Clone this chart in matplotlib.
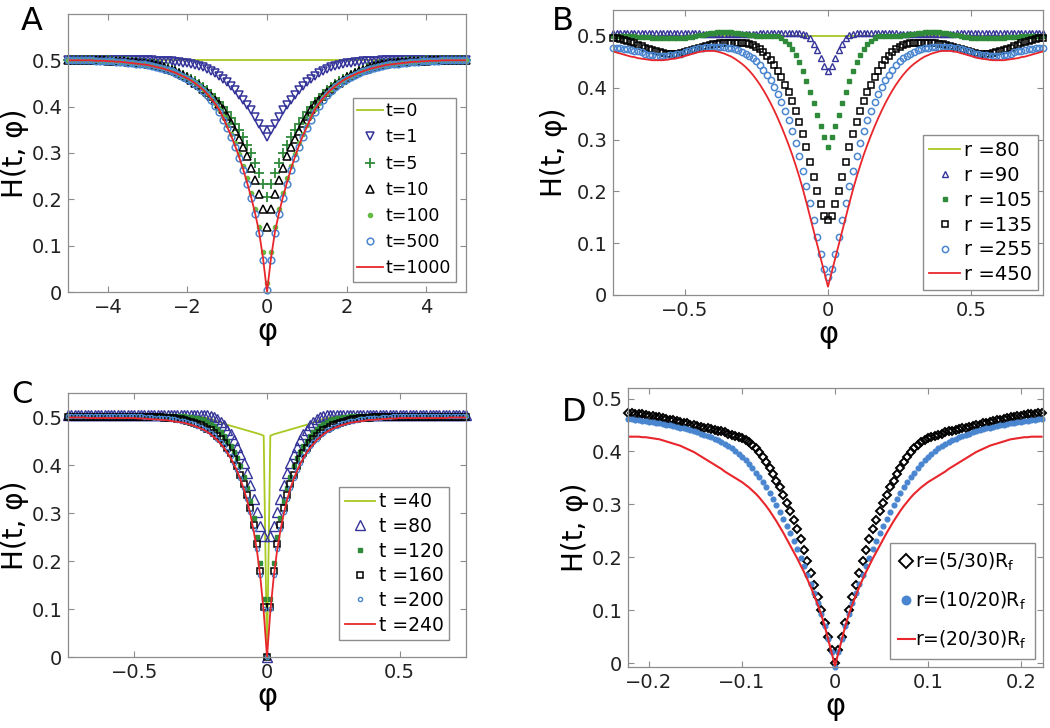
import numpy as np
import matplotlib
matplotlib.use("Agg")
import matplotlib.pyplot as plt

# ---- panel A : values on phi = 0, 0.1, ... 5 (curves are symmetric in phi)
a_phi = np.linspace(0, 5, 51)
a_t0 = [0.5, 0.5, 0.5, 0.5, 0.5, 0.5, 0.5, 0.5, 0.5, 0.5,
        0.5, 0.5, 0.5, 0.5, 0.5, 0.5, 0.5, 0.5, 0.5, 0.5,
        0.5, 0.5, 0.5, 0.5, 0.5, 0.5, 0.5, 0.5, 0.5, 0.5,
        0.5, 0.5, 0.5, 0.5, 0.5, 0.5, 0.5, 0.5, 0.5, 0.5,
        0.5, 0.5, 0.5, 0.5, 0.5, 0.5, 0.5, 0.5, 0.5, 0.5,
        0.5]
a_t1 = [0.335, 0.35, 0.363, 0.377, 0.392, 0.404, 0.415, 0.425, 0.435, 0.445,
        0.453, 0.46, 0.467, 0.472, 0.477, 0.481, 0.485, 0.488, 0.49, 0.492,
        0.494, 0.495, 0.496, 0.497, 0.498, 0.498, 0.499, 0.499, 0.499, 0.5,
        0.5, 0.5, 0.5, 0.5, 0.5, 0.5, 0.5, 0.5, 0.5, 0.5,
        0.5, 0.5, 0.5, 0.5, 0.5, 0.5, 0.5, 0.5, 0.5, 0.5,
        0.5]
a_t5 = [0.206, 0.233, 0.257, 0.279, 0.3, 0.318, 0.334, 0.349, 0.363, 0.376,
        0.388, 0.399, 0.409, 0.418, 0.427, 0.435, 0.442, 0.449, 0.455, 0.46,
        0.465, 0.469, 0.473, 0.477, 0.48, 0.483, 0.486, 0.488, 0.49, 0.492,
        0.493, 0.494, 0.495, 0.496, 0.497, 0.498, 0.498, 0.499, 0.499, 0.499,
        0.5, 0.5, 0.5, 0.5, 0.5, 0.5, 0.5, 0.5, 0.5, 0.5,
        0.5]
a_t10 = [0.141, 0.18, 0.212, 0.242, 0.268, 0.293, 0.312, 0.33, 0.348, 0.365,
         0.38, 0.394, 0.405, 0.414, 0.423, 0.431, 0.439, 0.446, 0.452, 0.458,
         0.463, 0.468, 0.472, 0.476, 0.479, 0.482, 0.485, 0.487, 0.489, 0.491,
         0.492, 0.494, 0.495, 0.496, 0.497, 0.497, 0.498, 0.498, 0.499, 0.499,
         0.499, 0.5, 0.5, 0.5, 0.5, 0.5, 0.5, 0.5, 0.5, 0.5,
         0.5]
a_t100 = [0.02, 0.087, 0.14, 0.18, 0.214, 0.245, 0.273, 0.298, 0.321, 0.342,
          0.361, 0.379, 0.395, 0.408, 0.42, 0.43, 0.439, 0.446, 0.453, 0.458,
          0.463, 0.467, 0.471, 0.475, 0.478, 0.481, 0.483, 0.485, 0.487, 0.489,
          0.49, 0.492, 0.493, 0.494, 0.495, 0.496, 0.497, 0.497, 0.498, 0.498,
          0.499, 0.499, 0.499, 0.5, 0.5, 0.5, 0.5, 0.5, 0.5, 0.5,
          0.5]
a_t500 = [0.005, 0.07, 0.128, 0.168, 0.203, 0.234, 0.263, 0.289, 0.313, 0.335,
          0.354, 0.372, 0.389, 0.402, 0.414, 0.425, 0.434, 0.442, 0.449, 0.455,
          0.46, 0.465, 0.469, 0.473, 0.476, 0.479, 0.482, 0.484, 0.486, 0.488,
          0.49, 0.491, 0.492, 0.493, 0.494, 0.495, 0.496, 0.497, 0.497, 0.498,
          0.498, 0.499, 0.499, 0.499, 0.5, 0.5, 0.5, 0.5, 0.5, 0.5,
          0.5]
a_t1000 = [0.0, 0.073, 0.13, 0.17, 0.205, 0.236, 0.265, 0.291, 0.315, 0.337,
           0.356, 0.376, 0.393, 0.406, 0.417, 0.427, 0.436, 0.443, 0.45, 0.456,
           0.461, 0.465, 0.469, 0.473, 0.476, 0.479, 0.482, 0.484, 0.486, 0.488,
           0.49, 0.491, 0.492, 0.493, 0.494, 0.495, 0.496, 0.497, 0.497, 0.498,
           0.498, 0.499, 0.499, 0.499, 0.5, 0.5, 0.5, 0.5, 0.5, 0.5,
           0.5]

# ---- panel B : values on phi = 0, 0.0125, ... 0.75
b_phi = np.linspace(0, 0.75, 61)
b_r80 = [0.5, 0.5, 0.5, 0.5, 0.5, 0.5, 0.5, 0.5, 0.5, 0.5,
         0.5, 0.5, 0.5, 0.5, 0.5, 0.5, 0.5, 0.5, 0.5, 0.5,
         0.5, 0.5, 0.5, 0.5, 0.5, 0.5, 0.5, 0.5, 0.5, 0.5,
         0.5, 0.5, 0.5, 0.5, 0.5, 0.5, 0.5, 0.5, 0.5, 0.5,
         0.5, 0.5, 0.5, 0.5, 0.5, 0.5, 0.5, 0.5, 0.5, 0.5,
         0.5, 0.5, 0.5, 0.5, 0.5, 0.5, 0.5, 0.5, 0.5, 0.5,
         0.5]
b_r90 = [0.432, 0.441, 0.457, 0.472, 0.485, 0.495, 0.501, 0.504, 0.505, 0.505,
         0.505, 0.505, 0.505, 0.505, 0.505, 0.505, 0.505, 0.505, 0.505, 0.505,
         0.504, 0.504, 0.504, 0.504, 0.504, 0.504, 0.504, 0.504, 0.504, 0.504,
         0.504, 0.504, 0.504, 0.504, 0.504, 0.504, 0.505, 0.505, 0.505, 0.505,
         0.505, 0.505, 0.505, 0.505, 0.505, 0.505, 0.505, 0.505, 0.505, 0.505,
         0.505, 0.505, 0.505, 0.505, 0.505, 0.505, 0.505, 0.505, 0.505, 0.505,
         0.505]
b_r105 = [0.285, 0.305, 0.326, 0.348, 0.37, 0.392, 0.413, 0.432, 0.449, 0.463,
          0.475, 0.484, 0.491, 0.496, 0.499, 0.5, 0.5, 0.5, 0.5, 0.5,
          0.5, 0.501, 0.502, 0.503, 0.504, 0.505, 0.506, 0.507, 0.508, 0.508,
          0.508, 0.507, 0.506, 0.505, 0.504, 0.502, 0.501, 0.499, 0.498, 0.497,
          0.496, 0.495, 0.495, 0.495, 0.495, 0.495, 0.495, 0.495, 0.496, 0.496,
          0.497, 0.497, 0.498, 0.498, 0.499, 0.499, 0.5, 0.5, 0.5, 0.5,
          0.5]
b_r135 = [0.145, 0.152, 0.175, 0.2, 0.228, 0.257, 0.285, 0.31, 0.334, 0.355,
          0.374, 0.391, 0.406, 0.42, 0.432, 0.443, 0.453, 0.461, 0.468, 0.474,
          0.478, 0.482, 0.484, 0.486, 0.487, 0.487, 0.487, 0.487, 0.487, 0.486,
          0.486, 0.485, 0.484, 0.483, 0.481, 0.479, 0.477, 0.475, 0.473, 0.471,
          0.469, 0.467, 0.466, 0.465, 0.465, 0.466, 0.467, 0.468, 0.47, 0.472,
          0.474, 0.477, 0.48, 0.483, 0.486, 0.488, 0.49, 0.492, 0.494, 0.495,
          0.496]
b_r255 = [0.035, 0.05, 0.08, 0.112, 0.145, 0.178, 0.21, 0.24, 0.268, 0.293,
          0.316, 0.337, 0.356, 0.373, 0.388, 0.402, 0.414, 0.425, 0.435, 0.444,
          0.451, 0.457, 0.462, 0.466, 0.469, 0.472, 0.474, 0.476, 0.477, 0.478,
          0.479, 0.479, 0.479, 0.479, 0.478, 0.477, 0.476, 0.474, 0.472, 0.47,
          0.468, 0.466, 0.465, 0.464, 0.463, 0.462, 0.462, 0.462, 0.462, 0.463,
          0.464, 0.466, 0.468, 0.47, 0.471, 0.473, 0.474, 0.475, 0.476, 0.476,
          0.477]
b_r450 = [0.016, 0.043, 0.07, 0.097, 0.124, 0.151, 0.178, 0.204, 0.228, 0.25,
          0.271, 0.29, 0.308, 0.325, 0.341, 0.356, 0.37, 0.383, 0.395, 0.406,
          0.416, 0.425, 0.433, 0.44, 0.446, 0.451, 0.456, 0.46, 0.463, 0.466,
          0.468, 0.47, 0.471, 0.471, 0.471, 0.47, 0.469, 0.467, 0.465, 0.463,
          0.461, 0.459, 0.457, 0.456, 0.455, 0.454, 0.453, 0.453, 0.453, 0.453,
          0.454, 0.455, 0.456, 0.457, 0.459, 0.46, 0.462, 0.464, 0.466, 0.468,
          0.47]

# ---- panel C : values on phi = 0, 0.0125, ... 0.75
c_phi = np.linspace(0, 0.75, 61)
c_t40 = [0.0, 0.461, 0.464, 0.466, 0.468, 0.47, 0.472, 0.474, 0.476, 0.478,
         0.48, 0.482, 0.484, 0.487, 0.489, 0.491, 0.494, 0.496, 0.498, 0.499,
         0.5, 0.5, 0.5, 0.5, 0.5, 0.5, 0.5, 0.5, 0.5, 0.5,
         0.5, 0.5, 0.5, 0.5, 0.5, 0.5, 0.5, 0.5, 0.5, 0.5,
         0.5, 0.5, 0.5, 0.5, 0.5, 0.5, 0.5, 0.5, 0.5, 0.5,
         0.5, 0.5, 0.5, 0.5, 0.5, 0.5, 0.5, 0.5, 0.5, 0.5,
         0.5]
c_t80 = [0.0, 0.252, 0.273, 0.302, 0.33, 0.358, 0.383, 0.404, 0.422, 0.438,
         0.452, 0.464, 0.474, 0.483, 0.49, 0.496, 0.5, 0.503, 0.504, 0.505,
         0.505, 0.505, 0.505, 0.505, 0.505, 0.505, 0.505, 0.505, 0.505, 0.505,
         0.505, 0.505, 0.505, 0.505, 0.505, 0.505, 0.505, 0.505, 0.505, 0.505,
         0.505, 0.505, 0.505, 0.505, 0.505, 0.505, 0.505, 0.505, 0.505, 0.505,
         0.505, 0.505, 0.505, 0.505, 0.505, 0.505, 0.505, 0.505, 0.505, 0.505,
         0.505]
c_t120 = [0.0, 0.12, 0.195, 0.25, 0.29, 0.325, 0.352, 0.375, 0.397, 0.414,
          0.428, 0.44, 0.451, 0.46, 0.468, 0.475, 0.481, 0.486, 0.49, 0.493,
          0.495, 0.497, 0.499, 0.5, 0.501, 0.502, 0.503, 0.503, 0.503, 0.503,
          0.503, 0.503, 0.503, 0.503, 0.503, 0.503, 0.503, 0.503, 0.503, 0.503,
          0.503, 0.503, 0.503, 0.503, 0.503, 0.503, 0.503, 0.503, 0.503, 0.503,
          0.503, 0.503, 0.503, 0.503, 0.503, 0.503, 0.503, 0.503, 0.503, 0.503,
          0.503]
c_t160 = [0.0, 0.105, 0.18, 0.235, 0.275, 0.31, 0.337, 0.36, 0.38, 0.397,
          0.412, 0.425, 0.436, 0.446, 0.454, 0.461, 0.467, 0.472, 0.476, 0.48,
          0.483, 0.486, 0.488, 0.49, 0.492, 0.494, 0.495, 0.496, 0.497, 0.498,
          0.499, 0.499, 0.5, 0.5, 0.5, 0.5, 0.5, 0.5, 0.5, 0.5,
          0.5, 0.5, 0.5, 0.5, 0.5, 0.5, 0.5, 0.5, 0.5, 0.5,
          0.5, 0.5, 0.5, 0.5, 0.5, 0.5, 0.5, 0.5, 0.5, 0.5,
          0.5]
c_t200 = [0.0, 0.1, 0.17, 0.225, 0.267, 0.302, 0.33, 0.353, 0.373, 0.39,
          0.405, 0.418, 0.429, 0.439, 0.448, 0.455, 0.462, 0.467, 0.472, 0.476,
          0.479, 0.482, 0.485, 0.487, 0.489, 0.491, 0.492, 0.494, 0.495, 0.496,
          0.497, 0.498, 0.498, 0.499, 0.499, 0.5, 0.501, 0.501, 0.502, 0.502,
          0.502, 0.502, 0.502, 0.502, 0.502, 0.502, 0.502, 0.502, 0.502, 0.502,
          0.502, 0.502, 0.502, 0.502, 0.502, 0.502, 0.502, 0.502, 0.502, 0.502,
          0.502]
c_t240 = [0.0, 0.095, 0.165, 0.22, 0.262, 0.297, 0.326, 0.35, 0.37, 0.387,
          0.402, 0.415, 0.426, 0.436, 0.444, 0.452, 0.458, 0.464, 0.469, 0.473,
          0.476, 0.479, 0.482, 0.484, 0.486, 0.488, 0.489, 0.49, 0.491, 0.492,
          0.493, 0.494, 0.494, 0.495, 0.495, 0.496, 0.496, 0.497, 0.497, 0.497,
          0.498, 0.498, 0.498, 0.498, 0.498, 0.498, 0.498, 0.498, 0.498, 0.498,
          0.498, 0.498, 0.498, 0.498, 0.498, 0.499, 0.499, 0.499, 0.499, 0.499,
          0.499]

# ---- panel D : values on phi = 0 ... 0.222
d_phi = np.linspace(0, 0.222, 61)
d_r5 = [0.0, 0.025, 0.05, 0.075, 0.1, 0.125, 0.148, 0.17, 0.193, 0.214,
        0.234, 0.253, 0.27, 0.287, 0.303, 0.318, 0.332, 0.345, 0.357, 0.369,
        0.38, 0.39, 0.399, 0.407, 0.413, 0.418, 0.422, 0.425, 0.428, 0.43,
        0.432, 0.434, 0.436, 0.438, 0.439, 0.441, 0.442, 0.444, 0.445, 0.447,
        0.448, 0.45, 0.451, 0.453, 0.454, 0.456, 0.457, 0.459, 0.46, 0.462,
        0.463, 0.465, 0.466, 0.467, 0.468, 0.469, 0.47, 0.471, 0.471, 0.472,
        0.472]
d_r10 = [-0.008, 0.02, 0.045, 0.07, 0.093, 0.113, 0.132, 0.15, 0.167, 0.183,
         0.199, 0.215, 0.23, 0.245, 0.259, 0.273, 0.286, 0.298, 0.31, 0.321,
         0.332, 0.342, 0.351, 0.36, 0.368, 0.376, 0.383, 0.39, 0.396, 0.401,
         0.406, 0.41, 0.414, 0.418, 0.421, 0.424, 0.427, 0.43, 0.432, 0.434,
         0.436, 0.438, 0.44, 0.442, 0.444, 0.445, 0.447, 0.448, 0.45, 0.451,
         0.452, 0.453, 0.454, 0.455, 0.456, 0.457, 0.458, 0.459, 0.46, 0.461,
         0.461]
d_r20 = [-0.005, 0.02, 0.045, 0.07, 0.092, 0.11, 0.127, 0.143, 0.158, 0.172,
         0.185, 0.198, 0.21, 0.222, 0.234, 0.246, 0.257, 0.268, 0.278, 0.288,
         0.297, 0.305, 0.313, 0.32, 0.326, 0.332, 0.337, 0.342, 0.346, 0.35,
         0.354, 0.358, 0.362, 0.367, 0.371, 0.375, 0.379, 0.383, 0.387, 0.391,
         0.395, 0.399, 0.402, 0.405, 0.408, 0.411, 0.413, 0.415, 0.417, 0.419,
         0.421, 0.423, 0.424, 0.425, 0.426, 0.427, 0.427, 0.428, 0.428, 0.428,
         0.428]

y_ticks = [0, 0.1, 0.2, 0.3, 0.4, 0.5]
y_ticklabels = ["0", "0.1", "0.2", "0.3", "0.4", "0.5"]
a_xticks = [-4, -2, 0, 2, 4]
a_xticklabels = ["\u22124", "\u22122", "0", "2", "4"]
bc_xticks = [-0.5, 0, 0.5]
bc_xticklabels = ["\u22120.5", "0", "0.5"]
d_xticks = [-0.2, -0.1, 0, 0.1, 0.2]
d_xticklabels = ["\u22120.2", "\u22120.1", "0", "0.1", "0.2"]

NAVY = "#34349a"
DGREEN = "#2f8a3a"
LGREEN = "#66bb44"
LBLUE = "#4a86d0"
RED = "#e8262b"
YGREEN = "#a8c822"


def full(phi, vals):
    # the curves are symmetric: show the stored half at -phi and +phi
    phi = np.asarray(phi)
    vals = np.asarray(vals)
    return (np.concatenate([-phi[:0:-1], phi]),
            np.concatenate([vals[:0:-1], vals]))


def style(ax, xlim, ylim, xt, xtl, ypad=2):
    ax.set_xlim(*xlim)
    ax.set_ylim(*ylim)
    ax.set_xticks(xt)
    ax.set_xticklabels(xtl)
    ax.set_yticks(y_ticks)
    ax.set_yticklabels(y_ticklabels)
    for s in ax.spines.values():
        s.set_color("#8c8c8c")
        s.set_linewidth(0.9)
    ax.tick_params(direction="in", length=4, width=0.8, color="#8c8c8c",
                   labelsize=14, labelcolor="#222222", top=True, right=True,
                   pad=4)
    ax.set_xlabel("\u03c6", fontsize=22, labelpad=0)
    ax.set_ylabel("H(t, \u03c6)", fontsize=20, labelpad=ypad)


def legend(ax, size, **kw):
    return ax.legend(loc="lower right", fontsize=size, frameon=True,
                     fancybox=False, edgecolor="#8c8c8c", framealpha=1,
                     **kw)


fig = plt.figure(figsize=(10.5, 7.28), dpi=100)
axA = fig.add_axes([0.0648, 0.5989, 0.3790, 0.3819])
axB = fig.add_axes([0.5838, 0.5948, 0.4095, 0.3915])
axC = fig.add_axes([0.0648, 0.0975, 0.3790, 0.3626])
axD = fig.add_axes([0.5981, 0.0838, 0.3952, 0.3832])

# panel A
ax = axA
ax.plot(*full(a_phi, a_t0), color=YGREEN, lw=1.3, label="t=0")
ax.plot(*full(a_phi, a_t1), ls="none", marker="v", ms=5.5, mfc="none",
        mec=NAVY, mew=1.1, label="t=1", clip_on=False)
ax.plot(*full(a_phi, a_t5), ls="none", marker="+", ms=6.5, mec=DGREEN,
        mew=1.3, label="t=5", clip_on=False)
ax.plot(*full(a_phi, a_t10), ls="none", marker="^", ms=5.5, mfc="none",
        mec="black", mew=1.1, label="t=10", clip_on=False)
ax.plot(*full(a_phi, a_t100), ls="none", marker="o", ms=3, mfc=LGREEN,
        mec=LGREEN, label="t=100", clip_on=False)
ax.plot(*full(a_phi, a_t500), ls="none", marker="o", ms=4.8, mfc="none",
        mec=LBLUE, mew=1.1, label="t=500", clip_on=False)
ax.plot(*full(a_phi, a_t1000), color=RED, lw=1.3, label="t=1000")
style(ax, (-5, 5), (0, 0.6), a_xticks, a_xticklabels)
legend(ax, 12.5, handlelength=1.5, handletextpad=0.15, labelspacing=0.47,
       borderpad=0.25, borderaxespad=0.6)

# panel B
ax = axB
ax.plot(*full(b_phi, b_r80), color=YGREEN, lw=1.3, label="r =80")
ax.plot(*full(b_phi, b_r90), ls="none", marker="^", ms=5, mfc="none",
        mec=NAVY, mew=1.0, label="r =90", clip_on=False)
ax.plot(*full(b_phi, b_r105), ls="none", marker="s", ms=2.8, mfc=DGREEN,
        mec=DGREEN, label="r =105", clip_on=False)
ax.plot(*full(b_phi, b_r135), ls="none", marker="s", ms=4, mfc="none",
        mec="black", mew=1.1, label="r =135", clip_on=False)
ax.plot(*full(b_phi, b_r255), ls="none", marker="o", ms=4.5, mfc="none",
        mec=LBLUE, mew=1.1, label="r =255", clip_on=False)
ax.plot(*full(b_phi, b_r450), color=RED, lw=1.3, label="r =450")
style(ax, (-0.75, 0.75), (0, 0.55), bc_xticks, bc_xticklabels, ypad=6)
legend(ax, 14, handlelength=1.6, handletextpad=0.2, labelspacing=0.3,
       borderpad=0.3, borderaxespad=0.25)

# panel C
ax = axC
ax.plot(*full(c_phi, c_t40), color=YGREEN, lw=1.3, label="t =40")
ax.plot(*full(c_phi, c_t80), ls="none", marker="^", ms=6.5, mfc="none",
        mec=NAVY, mew=1.0, label="t =80", clip_on=False)
ax.plot(*full(c_phi, c_t120), ls="none", marker="s", ms=3.3, mfc=DGREEN,
        mec=DGREEN, label="t =120", clip_on=False)
ax.plot(*full(c_phi, c_t160), ls="none", marker="s", ms=4, mfc="none",
        mec="black", mew=1.1, label="t =160", clip_on=False)
ax.plot(*full(c_phi, c_t200), ls="none", marker="o", ms=3, mfc="none",
        mec=LBLUE, mew=1.0, label="t =200", clip_on=False)
ax.plot(*full(c_phi, c_t240), color=RED, lw=1.3, label="t =240")
style(ax, (-0.75, 0.75), (0, 0.55), bc_xticks, bc_xticklabels)
legend(ax, 13.5, handlelength=1.6, handletextpad=0.2, labelspacing=0.3,
       borderpad=0.3, borderaxespad=0.9)

# panel D
ax = axD
ax.plot(*full(d_phi, d_r5), ls="none", marker="D", ms=4.2, mfc="none",
        mec="black", mew=1.4, label="r=(5/30)R$_\\mathregular{f}$",
        clip_on=False)
ax.plot(*full(d_phi, d_r10), ls="none", marker="o", ms=3.4, mfc=LBLUE,
        mec=LBLUE, label="r=(10/20)R$_\\mathregular{f}$", clip_on=False)
ax.plot(*full(d_phi, d_r20), color=RED, lw=1.5,
        label="r=(20/30)R$_\\mathregular{f}$")
style(ax, (-0.2225, 0.2235), (-0.0075, 0.52), d_xticks, d_xticklabels)
legend(ax, 13.5, handlelength=0.9, handletextpad=0.05, labelspacing=0.9,
       borderpad=0.4, borderaxespad=0.45, markerscale=1.8)

fig.text(0.020, 0.992, "A", fontsize=23, va="top", ha="left")
fig.text(0.526, 0.992, "B", fontsize=23, va="top", ha="left")
fig.text(0.011, 0.478, "C", fontsize=22, va="top", ha="left")
fig.text(0.535, 0.455, "D", fontsize=23, va="top", ha="left")

fig.savefig("out.png", dpi=100, facecolor="white")
plt.close(fig)
